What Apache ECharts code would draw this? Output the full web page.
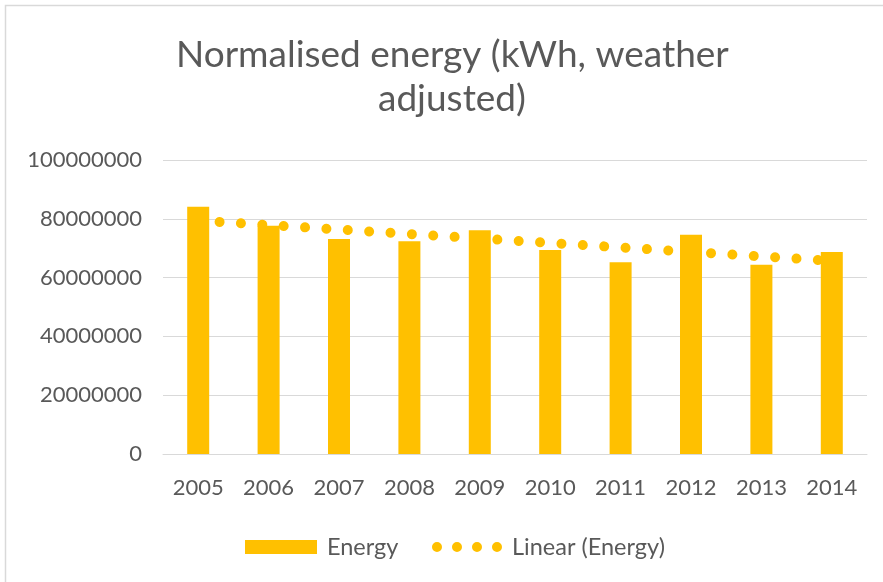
<!DOCTYPE html>
<html>
<head>
<meta charset="utf-8">
<script src="https://cdn.jsdelivr.net/npm/echarts@6/dist/echarts.min.js"></script>
<style>
html,body{margin:0;padding:0;background:#fff;}
#chart{width:883px;height:582px;}
</style>
</head>
<body>
<div id="chart"></div>
<script>
// ---- data ----
var titleLines = ['Normalised energy (kWh, weather', 'adjusted)'];
var years = ['2005','2006','2007','2008','2009','2010','2011','2012','2013','2014'];
var energy = [84100000, 77600000, 73100000, 72400000, 76100000, 69400000, 65200000, 74600000, 64400000, 68700000];
// linear trendline (Energy): values read at first and last category, straight line between
var trendEnergy = [79400000, null, null, null, null, null, null, null, null, 65700000];
var yTicks = [0, 20000000, 40000000, 60000000, 80000000, 100000000];
var seriesNames = ['Energy', 'Linear (Energy)'];

var FONT = 'Lato';
var GOLD = '#FFC000';
var TEXT = '#595959';
var TITLE_SIZE = 37;
var TITLE_CENTER_X = 452;

var chart = echarts.init(document.getElementById('chart'), null, {renderer: 'canvas'});
var dotsIcon = 'path://M0,5a5,5 0 1,0 10,0a5,5 0 1,0 -10,0z' +
  'M20,5a5,5 0 1,0 10,0a5,5 0 1,0 -10,0z' +
  'M40,5a5,5 0 1,0 10,0a5,5 0 1,0 -10,0z' +
  'M60,5a5,5 0 1,0 10,0a5,5 0 1,0 -10,0z';

var measureCtx = document.createElement('canvas').getContext('2d');
measureCtx.font = TITLE_SIZE + 'px ' + FONT;
function centeredLeft(str) {
  return Math.round(TITLE_CENTER_X - measureCtx.measureText(str).width / 2);
}

var titleStyle = {fontFamily: FONT, fontSize: TITLE_SIZE, fontWeight: 'normal', color: TEXT};

chart.setOption({
  backgroundColor: '#ffffff',
  animation: false,
  textStyle: {fontFamily: FONT},
  title: [{
    text: titleLines[0],
    left: centeredLeft(titleLines[0]),
    top: 37,
    padding: 0,
    textStyle: titleStyle
  }, {
    text: titleLines[1],
    left: centeredLeft(titleLines[1]),
    top: 81,
    padding: 0,
    textStyle: titleStyle
  }],
  graphic: [{
    type: 'rect',
    silent: true,
    shape: {x: 5.5, y: 5.5, width: 1000, height: 1000},
    style: {fill: 'none', stroke: '#D9D9D9', lineWidth: 1.5}
  }],
  legend: [{
    data: [{name: seriesNames[0], icon: 'rect'}],
    left: 245, top: 535,
    padding: 0,
    itemWidth: 72, itemHeight: 14,
    textStyle: {fontFamily: FONT, fontSize: 23.5, color: TEXT, padding: [0, 0, 0, 5]}
  }, {
    data: [{name: seriesNames[1], icon: dotsIcon}],
    left: 432, top: 535,
    padding: 0,
    itemWidth: 70, itemHeight: 10,
    itemStyle: {color: GOLD},
    textStyle: {fontFamily: FONT, fontSize: 23.5, color: TEXT, padding: [0, 0, 0, 5]}
  }],
  grid: {left: 163, right: 16, top: 160, bottom: 128, containLabel: false},
  xAxis: {
    type: 'category',
    data: years,
    boundaryGap: true,
    axisLine: {show: true, lineStyle: {color: '#D9D9D9', width: 1}},
    axisTick: {show: false},
    axisLabel: {color: TEXT, fontFamily: FONT, fontSize: 22, margin: 23}
  },
  yAxis: {
    type: 'value',
    min: yTicks[0],
    max: yTicks[yTicks.length - 1],
    interval: yTicks[1] - yTicks[0],
    axisLine: {show: false},
    axisTick: {show: false},
    splitLine: {show: true, lineStyle: {color: '#D9D9D9', width: 1}},
    axisLabel: {color: TEXT, fontFamily: FONT, fontSize: 22, margin: 21,
      formatter: function (v) { return String(v); }}
  },
  series: [{
    name: seriesNames[0],
    type: 'bar',
    data: energy,
    barWidth: 22,
    itemStyle: {color: GOLD},
    z: 2
  }, {
    name: seriesNames[1],
    type: 'line',
    data: trendEnergy,
    connectNulls: true,
    showSymbol: false,
    symbol: 'none',
    lineStyle: {color: GOLD, width: 10, type: [0.01, 21.4], cap: 'round'},
    itemStyle: {color: GOLD},
    z: 3
  }]
});
</script>
</body>
</html>
